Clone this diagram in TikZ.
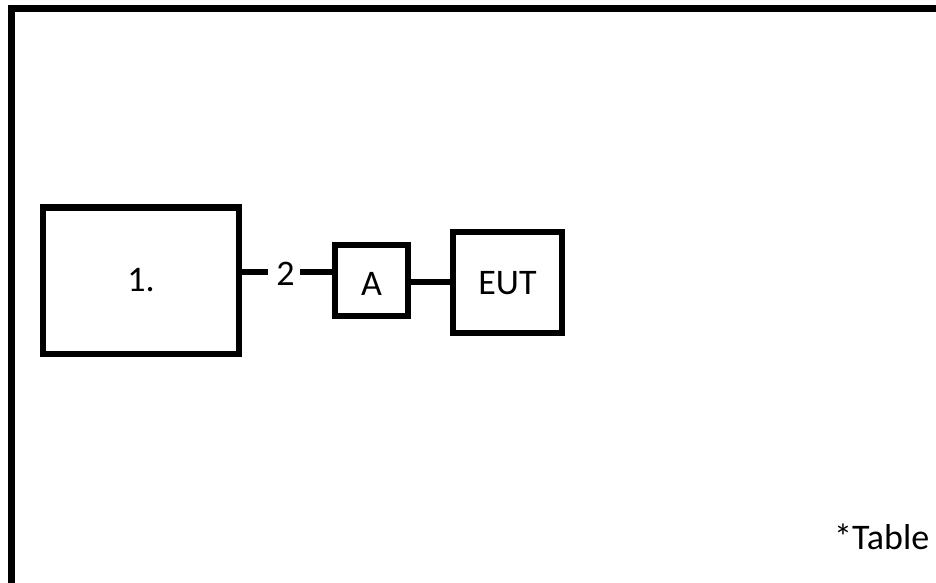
\documentclass[tikz,border=0pt]{standalone}
\usepackage{fontspec}
\setmainfont{Carlito}
\tikzset{
  blk/.style={draw=black, line width=6.5pt, fill=white, inner sep=0pt, text depth=0pt, font=\fontsize{36}{40}\selectfont},
  wire/.style={draw=black, line width=6pt},
  lbl/.style={inner sep=0pt, font=\fontsize{36}{40}\selectfont}
}
\begin{document}
\begin{tikzpicture}[x=1pt,y=-1pt]
\useasboundingbox (0,0) rectangle (936,582);
\begin{scope}
\clip (0,0) rectangle (936,582);
\draw[line width=7pt] (11.5,8) rectangle (960,610);
\end{scope}
\node[blk, minimum width=196pt, minimum height=146.5pt, text height=20.5pt] (box1) at (141,280.75) {1.};
\node[lbl, anchor=base] (n2) at (285.5,285) {2};
\node[blk, minimum width=73pt, minimum height=71pt, text height=29pt] (A) at (371.5,280.5) {A};
\node[blk, minimum width=109pt, minimum height=101pt, text height=23pt] (EUT) at (507.5,282.5) {EUT};
\coordinate (w2l) at (268,272);
\coordinate (w2r) at (300,272);
\draw[wire] (box1.east |- w2l) -- (w2l);
\draw[wire] (w2r) -- (A.west |- w2r);
\draw[wire] (A.east |- 0,282) -- (EUT.west |- 0,282);
\node[lbl, anchor=base west] (tab) at (834,549) {*Table};
\end{tikzpicture}
\end{document}
